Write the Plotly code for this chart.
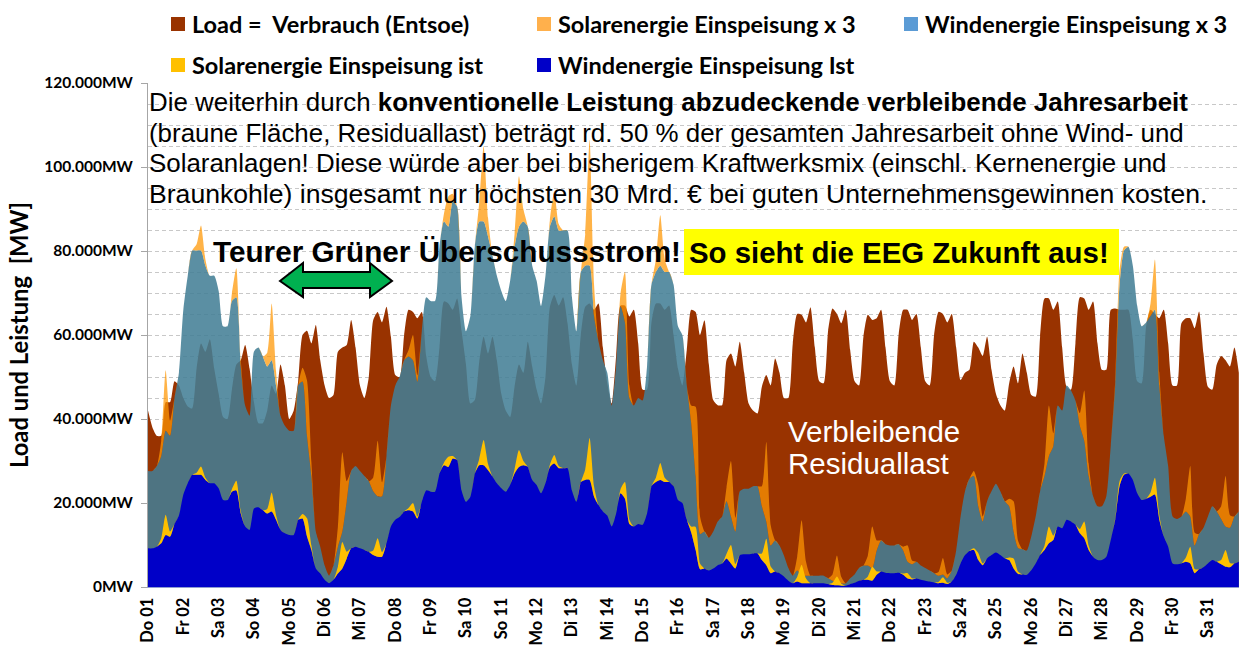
import plotly.graph_objects as go

day_labels = ["Do 01","Fr 02","Sa 03","So 04","Mo 05","Di 06","Mi 07","Do 08","Fr 09","Sa 10","So 11","Mo 12","Di 13","Mi 14","Do 15","Fr 16",
              "Sa 17","So 18","Mo 19","Di 20","Mi 21","Do 22","Fr 23","Sa 24","So 25","Mo 26","Di 27","Mi 28","Do 29","Fr 30","Sa 31"]
y_tick_values = [0, 20, 40, 60, 80, 100, 120]
y_tick_labels = ["<b>0MW</b>", "<b>20.000MW</b>", "<b>40.000MW</b>", "<b>60.000MW</b>", "<b>80.000MW</b>", "<b>100.000MW</b>", "<b>120.000MW</b>"]

# thousand MW, one value every 3 hours, one row per day
load = [
 42,38,36,36,44,44,49,48,
 45,43,42.5,52,58,56,59,52,
 46,40.5,40,47,53,54,57.6,52,
 44,39,39,42,48,46,53,48,
 40,42,49,60,61,58,62.4,54,
 48,45,45.7,56,57,57.6,63.6,57,
 48,45,50,63.6,65.5,63,66.7,59.6,
 50.5,50,60,66,65.5,64,65.5,55,
 50,49,57,68,67.5,66,68.7,61,
 53,43.7,44.5,53.6,59.6,55.6,59.6,54,
 46,42,40.5,47.7,53,51,58.4,52.5,
 47,43.7,50,66.7,69.5,67,69,62.8,
 53,48,60,66.7,67.5,66,67.5,57,
 48.5,43.7,55,67,67,64.4,66,58,
 47,47,63,67.5,67.5,66,67,60,
 52,48,56.4,66,65.5,60,63.5,53,
 44.5,43.3,43.3,54,55.6,52.5,58.4,51,
 43.7,42,41.3,47.7,50.5,48,54.4,51,
 45,45,58,65,64.8,63,66.6,57,
 49,48.5,61,66.3,65,62.8,66,56.4,
 49,48,59.6,64.8,63.6,64,66,57,
 49,48,60.4,66,66,63.6,65,57,
 49,48,60,65.5,65,63,65,57,
 49.3,51,51.7,58.4,57,55,59.6,51.7,
 46,43.3,42,48.5,52.5,48.5,55.6,51,
 45.7,45.3,59.6,68.7,68.7,66,68,57,
 47.7,47,58,69,68.7,66,68,58,
 51.7,51.7,66,66.3,66,66,66,59,
 49,48.5,62,66,65,64,66,58,
 48,48,62.8,64,64,61.6,65.6,55.6,
 47.7,47,53,55,54,52.5,57,51,
]
wind_ist = [
 9.2,9.2,9.6,10.4,12.4,12,15,17,
 22,24.7,26.7,26.7,26.7,25.5,24.7,24.7,
 23.5,20.7,20.7,22.7,23,17.5,14.4,13.6,
 18.7,19,18.3,17.5,18,16,13.6,12.8,
 12.4,12.4,16,16.3,12,8.8,4.4,3.2,
 1.7,.9,1.7,3.2,4.4,6.8,9.2,9.6,
 9.2,8.8,8.4,7.6,7.2,7.2,10.4,14.4,
 16,16.7,18,18.3,18,16.3,20.3,23,
 22.7,22.7,27,29,28.6,30.6,30.2,23,
 20.3,21.5,27,29,29,27.8,26.3,24.7,
 23.5,22.7,24.3,27,28.6,29,28.6,25.5,
 24.3,22.3,24.7,28.6,29.4,28.3,28.3,28.3,
 23,20.3,25,25.5,25.5,21.5,19.5,18,
 17,14.4,17.5,22.3,21,15,14.4,15,
 14.8,17.5,24,25,25.5,25,25,24,
 20.7,20,16,13,8.8,4.2,4.4,3.9,
 4.4,5.2,5.6,6.8,5.6,4.4,7.6,7.8,
 7.8,8,8,6.4,5.2,3.3,3.7,3.3,
 2.5,1.5,.9,1.3,.9,.9,.9,.9,
 .9,.9,.7,.5,.4,.3,.3,.7,
 1,1.5,1.7,1.7,1.5,2.9,3.7,3.4,
 3.3,3.3,3.4,2.9,2,1.8,2,1.7,
 1.5,1.3,1.1,.9,1,.7,1.3,2.9,
 5.6,7.6,8.6,8.8,6.4,5.2,6.8,7.6,
 8.2,7.6,6.8,6.4,4.4,3.1,3,2.9,
 4,5.6,7.6,8.8,10.4,11.2,14.4,14,
 16,15.6,14.8,12.8,11.6,8.8,7.2,6.4,
 6.4,7.2,11.2,16,24,26.7,27,25.5,
 22.3,20.7,21,21.5,22,16,12,9.6,
 5.6,5.4,5.6,6,5.6,3.3,4.2,4.7,
 5.6,6.4,6,5.4,4.8,4.7,5.6,6,
]
wind_x3 = [
 27.6,27.6,28.8,31.2,37.2,36,45,51,
 66,74.1,80.1,80.1,80.1,76.5,74.1,74.1,
 70.5,62.1,62.1,68.1,69,52.5,43.2,40.8,
 56.1,57,54.9,52.5,54,48,40.8,38.4,
 37.2,37.2,48,48.9,36,26.4,13.2,9.6,
 5.1,2.7,5.1,9.6,13.2,20.4,27.6,28.8,
 27.6,26.4,25.2,22.8,21.6,21.6,31.2,43.2,
 48,50.1,54,54.9,54,48.9,60.9,69,
 68.1,68.1,81,87,85.8,91.8,90.6,69,
 60.9,64.5,81,87,87,83.4,78.9,74.1,
 70.5,68.1,72.9,81,85.8,87,85.8,76.5,
 72.9,66.9,74.1,85.8,88.2,84.9,84.9,84.9,
 69,60.9,75,76.5,76.5,64.5,58.5,54,
 51,43.2,52.5,66.9,63,45,43.2,45,
 44.4,52.5,72,75,76.5,75,75,72,
 62.1,60,48,39,26.4,12.6,13.2,11.7,
 13.2,15.6,16.8,20.4,16.8,13.2,22.8,23.4,
 23.4,24,24,19.2,15.6,9.9,11.1,9.9,
 7.5,4.5,2.7,3.9,2.7,2.7,2.7,2.7,
 2.7,2.7,2.1,1.5,1.2,.9,.9,2.1,
 3,4.5,5.1,5.1,4.5,8.7,11.1,10.2,
 9.9,9.9,10.2,8.7,6,5.4,6,5.1,
 4.5,3.9,3.3,2.7,3,2.1,3.9,8.7,
 16.8,22.8,25.8,26.4,19.2,15.6,20.4,22.8,
 24.6,22.8,20.4,19.2,13.2,9.3,9,8.7,
 12,16.8,22.8,26.4,31.2,33.6,43.2,42,
 48,46.8,44.4,38.4,34.8,26.4,21.6,19.2,
 19.2,21.6,33.6,48,72,80.1,81,76.5,
 66.9,62.1,63,64.5,66,48,36,28.8,
 16.8,16.2,16.8,18,16.8,9.9,12.6,14.1,
 16.8,19.2,18,16.2,14.4,14.1,16.8,18,
]
solar_ist = [
 0,0,0,1.2,4.8,1.2,0,0,
 0,0,0,.5,2,.5,0,0,
 0,0,0,.6,2.3,.6,0,0,
 0,0,0,1.1,4.5,1.1,0,0,
 0,0,0,1.1,4.4,1.1,0,0,
 0,0,0,1.6,6.3,1.6,0,0,
 0,0,0,1.1,4.4,1.1,0,0,
 0,0,0,.5,2,.5,0,0,
 0,0,0,.6,2.4,.6,0,0,
 0,0,0,1.5,6,1.5,0,0,
 0,0,0,1,4,1,0,0,
 0,0,0,.5,2,.5,0,0,
 0,0,0,2.5,10,2.5,0,0,
 0,0,0,1,4,1,0,0,
 0,0,0,1,4,1,0,0,
 0,0,0,1.4,5.5,1.4,0,0,
 0,0,0,1.1,4.4,1.1,0,0,
 0,0,0,1.6,6.3,1.6,0,0,
 0,0,0,1.1,4.4,1.1,0,0,
 0,0,0,.5,2.1,.5,0,0,
 0,0,0,.8,3.3,.8,0,0,
 0,0,0,.3,1.3,.3,0,0,
 0,0,0,.3,1.3,.3,0,0,
 0,0,0,.4,1.7,.4,0,0,
 0,0,0,.6,2.4,.6,0,0,
 0,0,0,1,4,1,0,0,
 0,0,0,1,4,1,0,0,
 0,0,0,.3,1.2,.3,0,0,
 0,0,0,1,4,1,0,0,
 0,0,0,1,4,1,0,0,
 0,0,0,1,4,1,0,0,
]
solar_x3 = [
 0,0,0,3.6,14.4,3.6,0,0,
 0,0,0,1.5,6,1.5,0,0,
 0,0,0,1.8,6.9,1.8,0,0,
 0,0,0,3.3,13.5,3.3,0,0,
 0,0,0,3.3,13.2,3.3,0,0,
 0,0,0,4.8,18.9,4.8,0,0,
 0,0,0,3.3,13.2,3.3,0,0,
 0,0,0,1.5,6,1.5,0,0,
 0,0,0,1.8,7.2,1.8,0,0,
 0,0,0,4.5,18,4.5,0,0,
 0,0,0,3,12,3,0,0,
 0,0,0,1.5,6,1.5,0,0,
 0,0,0,7.5,30,7.5,0,0,
 0,0,0,3,12,3,0,0,
 0,0,0,3,12,3,0,0,
 0,0,0,4.2,16.5,4.2,0,0,
 0,0,0,3.3,13.2,3.3,0,0,
 0,0,0,4.8,18.9,4.8,0,0,
 0,0,0,3.3,13.2,3.3,0,0,
 0,0,0,1.5,6.3,1.5,0,0,
 0,0,0,2.4,9.9,2.4,0,0,
 0,0,0,.9,3.9,.9,0,0,
 0,0,0,.9,3.9,.9,0,0,
 0,0,0,1.2,5.1,1.2,0,0,
 0,0,0,1.8,7.2,1.8,0,0,
 0,0,0,3,12,3,0,0,
 0,0,0,3,12,3,0,0,
 0,0,0,.9,3.6,.9,0,0,
 0,0,0,3,12,3,0,0,
 0,0,0,3,12,3,0,0,
 0,0,0,3,12,3,0,0,
]
days = [i / 8 for i in range(len(load))]

L, R, T, B = 148, 1239, 83, 587
def px(x, y):
    return (x - L) / (R - L), (B - y) / (B - T)

fig = go.Figure()
def area(y, name, color, group=None):
    kw = dict(stackgroup=group) if group else dict(fill="tozeroy")
    fig.add_trace(go.Scatter(x=days, y=y, name=name, mode="lines",
                             line=dict(width=0, color=color, shape="spline", smoothing=0.6),
                             fillcolor=color, hoverinfo="skip", showlegend=False, **kw))
area(load, "Load =  Verbrauch (Entsoe)", "#993300")
area(wind_x3, "Windenergie Einspeisung x 3", "rgba(67,126,149,0.87)", "x3")
area(solar_x3, "Solarenergie Einspeisung x 3", "rgba(255,151,3,0.73)", "x3")
area(wind_ist, "Windenergie Einspeisung Ist", "#0000C8", "ist")
area(solar_ist, "Solarenergie Einspeisung ist", "#FFC000", "ist")

annotations, shapes = [], []
def text(x, y, s, size, bold=False, color="black", family="Liberation Sans", anchor="left", **kw):
    xp, yp = px(x, y)
    annotations.append(dict(x=xp, y=yp, xref="paper", yref="paper", text=f"<b>{s}</b>" if bold else s,
                            showarrow=False, xanchor=anchor, yanchor="middle",
                            font=dict(size=size, color=color, family=family), borderpad=0, **kw))

legend_items = [(171, 24, "#993300", "Load =\u00a0\u00a0Verbrauch (Entsoe)"),
                (537, 24, "#FFB04C", "Solarenergie Einspeisung x 3"),
                (904, 24, "#5B9BD5", "Windenergie Einspeisung x 3"),
                (171, 65, "#FFC000", "Solarenergie Einspeisung ist"),
                (537, 65, "#0000C8", "Windenergie Einspeisung Ist")]
for x, y, c, s in legend_items:
    x0, y0 = px(x, y - 7)
    x1, y1 = px(x + 14, y + 7)
    shapes.append(dict(type="rect", xref="paper", yref="paper", x0=x0, x1=x1, y0=y0, y1=y1,
                       fillcolor=c, line=dict(width=0)))
    text(x + 20, y, s, 23.5, True, family="Lato")

for y, size, s in [(102, 25.9, "Die weiterhin durch <b>konventionelle Leistung abzudeckende verbleibende Jahresarbeit</b>"),
                   (133, 25.9, "(braune Fläche, Residuallast) beträgt rd. 50 % der gesamten Jahresarbeit ohne Wind- und"),
                   (163, 25.9, "Solaranlagen! Diese würde aber bei bisherigem Kraftwerksmix (einschl. Kernenergie und"),
                   (194, 26.6, "Braunkohle) insgesamt nur höchsten 30 Mrd. € bei guten Unternehmensgewinnen kosten.")]:
    text(148, y, s, size)

text(212, 251, "Teurer Grüner Überschussstrom!", 29.7, True)
xp0, yp0 = px(684, 229)
xp1, yp1 = px(1119, 275)
shapes.append(dict(type="rect", xref="paper", yref="paper", x0=xp0, x1=xp1, y0=yp0, y1=yp1,
                   fillcolor="#FFFF00", line=dict(width=0), layer="above"))
text(688, 252, "So sieht die EEG Zukunft aus!", 29.4, True)
text(787, 431, "Verbleibende", 29.5, color="white")
text(787, 463, "Residuallast", 29.5, color="white")

pts = [(280,281),(303,263),(303,272),(370,272),(370,263),(392,281),(370,297),(370,288),(303,288),(303,297)]
path = ""
for i, (a, b) in enumerate(pts):
    xp, yp = px(a, b)
    path += f"{'M' if i == 0 else 'L'}{xp:.5f},{yp:.5f} "
shapes.append(dict(type="path", xref="paper", yref="paper", path=path + "Z", fillcolor="#00B050",
                   line=dict(color="black", width=2)))

fig.update_layout(
    width=1239, height=646, margin=dict(l=L, r=1239 - R, t=T, b=646 - B, pad=0),
    paper_bgcolor="white", plot_bgcolor="white", showlegend=False,
    annotations=annotations, shapes=shapes,
    xaxis=dict(range=[0, 30.88], tickmode="array", tickvals=list(range(31)), ticktext=[f"<b>{d}</b>" for d in day_labels],
               tickangle=-90, ticks="", showgrid=False, showline=True, linecolor="#8E9BD0", linewidth=1,
               ticklabelstandoff=3,
               tickfont=dict(family="Lato", size=16.5, color="black"), zeroline=False),
    yaxis=dict(range=[0, 120], tickmode="array", tickvals=y_tick_values, ticktext=y_tick_labels,
               ticks="outside", ticklen=6, tickcolor="#A6A6A6", showline=True, linecolor="#A6A6A6", linewidth=1,
               gridcolor="#C8C8C8", griddash="4px,3px", gridwidth=1, zeroline=False,
               ticklabelstandoff=5,
               minor=dict(dtick=5, showgrid=True, gridcolor="#C8C8C8", griddash="4px,3px", gridwidth=1, ticks=""),
               tickfont=dict(family="Lato", size=15.5, color="black"),
               title=dict(text="<b>Load und Leistung  [MW]</b>", font=dict(family="Lato", size=23.8, color="black"), standoff=9)),
)
fig.write_html("out.html", config=dict(displayModeBar=False),
               post_script="document.body.style.margin='0';document.documentElement.style.overflow='hidden';")
